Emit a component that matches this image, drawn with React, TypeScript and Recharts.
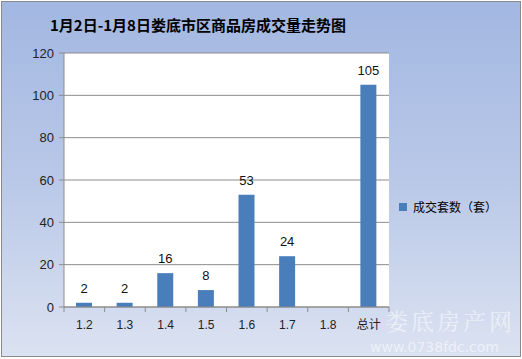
import React from 'react';
import { BarChart, Bar, XAxis, YAxis, CartesianGrid, LabelList } from 'recharts';

const categories = ['1.2', '1.3', '1.4', '1.5', '1.6', '1.7', '1.8', '总计'];
const salesValues: (number | null)[] = [2, 2, 16, 8, 53, 24, null, 105];
const yTicks = [0, 20, 40, 60, 80, 100, 120];
const seriesName = '成交套数（套）';
const title = '1月2日-1月8日娄底市区商品房成交量走势图';

const data = categories.map((c, i) => ({ name: c, value: salesValues[i] }));

const FONT = '"Liberation Sans", "Noto Sans CJK SC", sans-serif';
const CJK = '"Noto Sans CJK SC", "Liberation Sans", sans-serif';
const AXIS = '#8c8c8c';

const TICK_SIZE = 5;
const TICK_MARGIN = 8;

function CategoryTick(props: any) {
  const { x, y, payload, index, visibleTicksCount } = props;
  const half = payload && payload.offset ? payload.offset : 0;
  const axisY = y - TICK_SIZE - TICK_MARGIN;
  const isLast = index === (visibleTicksCount ?? categories.length) - 1;
  return (
    <g>
      <line x1={x - half} x2={x - half} y1={axisY} y2={axisY + TICK_SIZE} stroke={AXIS} />
      {isLast && <line x1={x + half} x2={x + half} y1={axisY} y2={axisY + TICK_SIZE} stroke={AXIS} />}
      <text x={x} y={y} dy="0.71em" textAnchor="middle" fill="#222" fontSize={12} fontFamily={FONT}>
        {payload.value}
      </text>
    </g>
  );
}

export default function App() {
  return (
    <div style={{ position: 'absolute', left: 0, top: 0, width: 522, height: 359, overflow: 'hidden', background: '#fff' }}>
      <div
        style={{
          position: 'absolute', left: 1, top: 1, width: 518, height: 354,
          border: '1px solid #8a8a8a',
          background: 'linear-gradient(to bottom, #a2b7e1 0%, #b9c8e8 50%, #dbe2f1 100%)',
        }}
      />
      <div
        style={{
          position: 'absolute', left: 50, top: 14, fontFamily: CJK, fontWeight: 'bold',
          fontSize: 15, color: '#000', whiteSpace: 'nowrap', lineHeight: '22px',
        }}
      >
        {title}
      </div>
      <div
        style={{
          position: 'absolute', left: 385, top: 308, fontFamily: '"Noto Serif CJK SC", "Noto Sans CJK SC", serif',
          fontSize: 23, color: 'rgba(255,255,255,0.55)', whiteSpace: 'nowrap', lineHeight: '26px', letterSpacing: 3,
        }}
      >
        娄底房产网
      </div>
      <div
        style={{
          position: 'absolute', left: 370, top: 340, fontFamily: '"DejaVu Sans", sans-serif',
          fontSize: 14, color: 'rgba(255,255,255,0.55)', whiteSpace: 'nowrap', lineHeight: '14px',
        }}
      >
        www.0738fdc.com
      </div>
      <div style={{ position: 'absolute', left: 0, top: 0 }}>
        <BarChart
          width={522}
          height={359}
          data={data}
          margin={{ top: 53, right: 133, bottom: 22, left: 0 }}
          barCategoryGap="60%"
        >
          <CartesianGrid vertical={false} stroke={AXIS} fill="#ffffff" />
          <XAxis
            dataKey="name"
            tickLine={{ stroke: 'none' }}
            tickSize={TICK_SIZE}
            tickMargin={TICK_MARGIN}
            axisLine={{ stroke: AXIS }}
            tick={<CategoryTick />}
            height={30}
            interval={0}
          />
          <YAxis
            domain={[0, 120]}
            ticks={yTicks}
            width={64}
            axisLine={{ stroke: AXIS }}
            tickLine={{ stroke: AXIS }}
            tickSize={5}
            tickMargin={5}
            tick={{ fill: '#222', fontSize: 13, fontFamily: FONT }}
            interval={0}
          />
          <Bar dataKey="value" fill="#4a7ebb" barSize={16} isAnimationActive={false}>
            <LabelList dataKey="value" position="top" offset={10} style={{ fill: '#111', fontSize: 13, fontFamily: FONT }} />
          </Bar>
        </BarChart>
      </div>
      <div style={{ position: 'absolute', left: 399, top: 203, width: 8, height: 8, background: '#4a7ebb' }} />
      <div
        style={{
          position: 'absolute', left: 413, top: 198, fontFamily: CJK, fontSize: 12,
          color: '#000', whiteSpace: 'nowrap', lineHeight: '18px',
        }}
      >
        {seriesName}
      </div>
    </div>
  );
}
